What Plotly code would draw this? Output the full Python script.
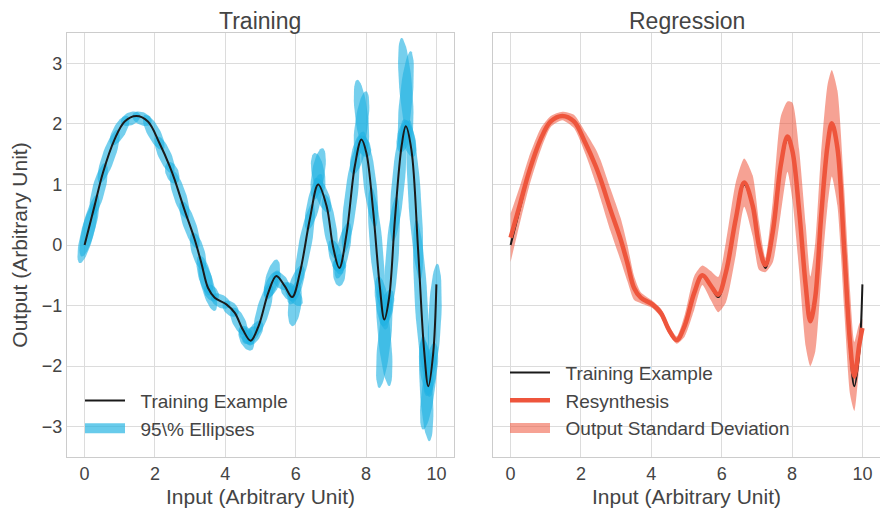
import numpy as np
import plotly.graph_objects as go

# ---------------- data ----------------
input_x = [0.00, 0.28, 0.52, 0.85, 1.14, 1.47, 1.80, 2.13, 2.42, 2.56, 2.84, 3.13, 3.32, 3.51,
           3.70, 4.03, 4.27, 4.50, 4.72, 4.95, 5.22, 5.45, 5.69, 5.90, 6.12, 6.40, 6.64, 6.88,
           7.06, 7.24, 7.45, 7.68, 7.87, 8.01, 8.20, 8.39, 8.52, 8.66, 8.82, 9.01, 9.13, 9.29,
           9.48, 9.65, 9.77, 9.91, 10.00]
training_y = [0.00, 0.64, 1.19, 1.74, 2.04, 2.13, 2.04, 1.68, 1.30, 1.08, 0.58, 0.09, -0.30, -0.71,
              -0.87, -0.98, -1.12, -1.40, -1.58, -1.33, -0.79, -0.51, -0.68, -0.86, -0.46, 0.42, 1.00, 0.64,
              -0.02, -0.38, 0.20, 1.30, 1.74, 1.52, 0.58, -0.68, -1.23, -0.85, 0.42, 1.63, 1.96, 1.57,
              -0.08, -1.73, -2.33, -1.78, -0.65]
resynthesis_y = [0.12, 0.70, 1.20, 1.74, 2.04, 2.13, 2.04, 1.68, 1.30, 1.08, 0.58, 0.09, -0.30, -0.71,
                 -0.87, -0.98, -1.12, -1.40, -1.57, -1.33, -0.79, -0.50, -0.67, -0.82, -0.45, 0.43, 1.03, 0.65,
                 -0.01, -0.33, 0.21, 1.32, 1.79, 1.55, 0.58, -0.68, -1.26, -0.86, 0.42, 1.65, 2.01, 1.60,
                 -0.05, -1.62, -2.17, -1.65, -1.37]
output_std = [0.40, 0.30, 0.25, 0.18, 0.09, 0.07, 0.11, 0.18, 0.28, 0.32, 0.35, 0.35, 0.30, 0.20,
              0.09, 0.06, 0.07, 0.07, 0.06, 0.18, 0.28, 0.16, 0.24, 0.29, 0.50, 0.60, 0.40, 0.50,
              0.40, 0.12, 0.50, 0.80, 0.58, 0.80, 1.00, 1.00, 0.74, 0.90, 1.05, 1.00, 0.88, 0.95,
              1.00, 0.85, 0.57, 0.35, 0.15]

# extra (elongated) 95% ellipses, given by their two tips
spike_x0 = [-0.14, 3.70, 4.74, 4.52, 5.47, 5.90, 5.72, 6.54, 6.76, 7.24, 7.04, 7.75, 8.00, 8.37, 8.66, 9.01, 9.27, 9.62, 9.80]
spike_y0 = [-0.30, -1.09, -1.74, -1.62, -0.24, -1.34, -0.62, 1.52, 1.60, -0.68, -0.33, 2.73, 2.54, -2.36, -2.33, 3.42, 3.20, -3.05, -3.24]
spike_x1 = [0.30, 3.30, 4.45, 4.92, 5.18, 6.05, 6.15, 6.74, 6.52, 7.24, 7.44, 7.99, 7.74, 8.67, 8.38, 9.25, 8.99, 9.92, 9.62]
spike_y1 = [0.70, -0.25, -1.36, -1.36, -0.90, -0.60, -1.00, 0.85, 0.75, -0.15, -0.33, 1.55, 1.45, -0.80, -0.65, 1.75, 1.55, -1.75, -1.50]

x_ticks = [0, 2, 4, 6, 8, 10]
y_ticks = [-3, -2, -1, 0, 1, 2, 3]

# ---------------- style ----------------
W, H = 880, 509
M = dict(l=67, r=0, t=33, b=52)
DOM1 = [0.0, 0.476]
DOM2 = [0.524, 1.0]
XR = [-0.5, 10.5]
YR = [-3.5, 3.5]
FONT = "Liberation Sans, Arial, sans-serif"
TXT = "#444444"
BLUE = "rgba(32,178,226,0.62)"
BLUE_LEG = "rgba(32,178,226,0.68)"
RED = "rgb(238,85,60)"
RED_BAND = "rgba(238,85,60,0.55)"

plot_w = W - M["l"] - M["r"]
plot_h = H - M["t"] - M["b"]
sx = plot_w * (DOM1[1] - DOM1[0]) / (XR[1] - XR[0])
sy = plot_h / (YR[1] - YR[0])


def ellipse(xa, ya, xb, yb, half_w=7.0, n=48):
    cx, cy = (xa + xb) / 2, (ya + yb) / 2
    ux, uy = (xb - xa) / 2 * sx, (yb - ya) / 2 * sy
    L = np.hypot(ux, uy)
    vx, vy = -uy / L * half_w, ux / L * half_w
    t = np.linspace(0, 2 * np.pi, n)
    px = cx + (np.cos(t) * ux + np.sin(t) * vx) / sx
    py = cy + (np.cos(t) * uy + np.sin(t) * vy) / sy
    return px, py


fig = go.Figure()

# ---- left: training with ellipses ----
ellipses = []
for i in range(len(input_x) - 1):
    cx = (input_x[i] + input_x[i + 1]) / 2
    cy = (training_y[i] + training_y[i + 1]) / 2
    hx = (input_x[i + 1] - input_x[i]) / 2 * 1.6
    hy = (training_y[i + 1] - training_y[i]) / 2 * 1.6
    ellipses.append((cx - hx, cy - hy, cx + hx, cy + hy, 6.5))
for a, b, c, d in zip(spike_x0, spike_y0, spike_x1, spike_y1):
    ellipses.append((a, b, c, d, 6.5))

for (a, b, c, d, w) in ellipses:
    ex, ey = ellipse(a, b, c, d, half_w=w)
    fig.add_trace(go.Scatter(x=ex, y=ey, mode="lines", fill="toself", fillcolor=BLUE,
                             line=dict(width=0), hoverinfo="skip", showlegend=False,
                             xaxis="x", yaxis="y"))

fig.add_trace(go.Scatter(x=input_x, y=training_y, mode="lines", line=dict(color="#1a1a1a", width=2, shape="spline"),
                         name="\u00a0\u00a0Training Example", legend="legend", legendrank=1,
                         xaxis="x", yaxis="y"))
fig.add_trace(go.Scatter(x=[None], y=[None], mode="lines", line=dict(color=BLUE_LEG, width=10),
                         name="\u00a0\u00a095\\% Ellipses", legend="legend", legendrank=2,
                         xaxis="x", yaxis="y"))

# ---- right: regression ----
lower = [m - s for m, s in zip(resynthesis_y, output_std)]
upper = [m + s for m, s in zip(resynthesis_y, output_std)]
fig.add_trace(go.Scatter(x=input_x, y=lower, mode="lines", line=dict(width=0, shape="spline", smoothing=0.6),
                         hoverinfo="skip", showlegend=False, xaxis="x2", yaxis="y2"))
fig.add_trace(go.Scatter(x=input_x, y=upper, mode="lines", line=dict(width=0, shape="spline", smoothing=0.6),
                         fill="tonexty", fillcolor=RED_BAND, hoverinfo="skip", showlegend=False,
                         xaxis="x2", yaxis="y2"))
fig.add_trace(go.Scatter(x=input_x, y=training_y, mode="lines", line=dict(color="#1a1a1a", width=2, shape="spline"),
                         name="\u00a0\u00a0Training Example", legend="legend2", legendrank=1,
                         xaxis="x2", yaxis="y2"))
fig.add_trace(go.Scatter(x=input_x, y=resynthesis_y, mode="lines", line=dict(color=RED, width=4.5, shape="spline"),
                         name="\u00a0\u00a0Resynthesis", legend="legend2", legendrank=2,
                         xaxis="x2", yaxis="y2"))
fig.add_trace(go.Scatter(x=[None], y=[None], mode="lines", line=dict(color=RED_BAND, width=10),
                         name="\u00a0\u00a0Output Standard Deviation", legend="legend2", legendrank=3,
                         xaxis="x2", yaxis="y2"))

axis_common = dict(range=XR, tickvals=x_ticks, showgrid=True, gridcolor="#dcdcdc", gridwidth=1,
                   showline=True, linecolor="#cccccc", linewidth=1.2, mirror=True, zeroline=False,
                   ticks="", tickfont=dict(size=18, color=TXT, family=FONT),
                   title=dict(text="Input (Arbitrary Unit)", font=dict(size=21, color=TXT, family=FONT), standoff=6),
                   automargin=False)

fig.update_layout(
    width=W, height=H, margin=M,
    paper_bgcolor="white", plot_bgcolor="white",
    font=dict(family=FONT, color=TXT),
    xaxis=dict(domain=DOM1, anchor="y", **axis_common),
    xaxis2=dict(domain=DOM2, anchor="y2", **axis_common),
    yaxis=dict(range=YR, tickvals=y_ticks, showgrid=True, gridcolor="#dcdcdc", gridwidth=1,
               showline=True, linecolor="#cccccc", linewidth=1.2, mirror=True, zeroline=False,
               ticks="", tickfont=dict(size=18, color=TXT, family=FONT), anchor="x",
               title=dict(text="Output (Arbitrary Unit)", font=dict(size=21, color=TXT, family=FONT), standoff=8),
               automargin=False),
    yaxis2=dict(range=YR, tickvals=y_ticks, showgrid=True, gridcolor="#dcdcdc", gridwidth=1,
                showline=True, linecolor="#cccccc", linewidth=1.2, mirror=True, zeroline=False,
                showticklabels=False, anchor="x2", matches="y"),
    legend=dict(x=(80 - M["l"]) / plot_w, y=0.022, xanchor="left", yanchor="bottom",
                bgcolor="rgba(0,0,0,0)", borderwidth=0, itemwidth=40,
                font=dict(size=19, color=TXT, family=FONT), traceorder="normal"),
    legend2=dict(x=(505 - M["l"]) / plot_w, y=0.022, xanchor="left", yanchor="bottom",
                 bgcolor="rgba(0,0,0,0)", borderwidth=0, itemwidth=40,
                 font=dict(size=19, color=TXT, family=FONT), traceorder="normal"),
    annotations=[
        dict(text="Training", x=(DOM1[0] + DOM1[1]) / 2, y=1, xref="paper", yref="paper", yshift=-3,
             xanchor="center", yanchor="bottom", showarrow=False, font=dict(size=23, color=TXT, family=FONT)),
        dict(text="Regression", x=(DOM2[0] + DOM2[1]) / 2, y=1, xref="paper", yref="paper", yshift=-3,
             xanchor="center", yanchor="bottom", showarrow=False, font=dict(size=23, color=TXT, family=FONT)),
    ],
    showlegend=True,
)

fig.write_html("out.html", config={"displayModeBar": False},
               post_script="document.body.style.margin='0';document.body.style.overflow='hidden';")
